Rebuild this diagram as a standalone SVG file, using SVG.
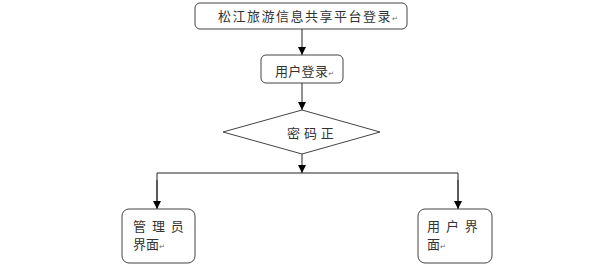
<svg xmlns="http://www.w3.org/2000/svg" width="600" height="277" viewBox="0 0 600 277">
<style>
.box{fill:#fff;stroke:#444;stroke-width:1}
.t{font-family:"Noto Sans CJK SC","Noto Sans",sans-serif;font-size:13px;fill:#333}
.rt{font-family:"DejaVu Sans",sans-serif;font-size:7px;fill:#666}
.ln{fill:none;stroke:#222;stroke-width:1}
</style>
<defs>
<marker id="ah" viewBox="0 0 8 8" refX="8" refY="4" markerWidth="8" markerHeight="8" markerUnits="userSpaceOnUse" orient="auto">
<path d="M0,0 L8,4 L0,8 z" fill="#000"/>
</marker>
</defs>
<g id="connectors">
<line class="ln" x1="302" y1="29" x2="302" y2="55" marker-end="url(#ah)"/>
<line class="ln" x1="302" y1="83" x2="302" y2="110" marker-end="url(#ah)"/>
<line class="ln" x1="302" y1="154" x2="302" y2="173" marker-end="url(#ah)"/>
<polyline class="ln" points="157,208 157,173 458,173 458,208"/>
<line class="ln" x1="157" y1="180" x2="157" y2="209" marker-end="url(#ah)"/>
<line class="ln" x1="458" y1="180" x2="458" y2="209" marker-end="url(#ah)"/>
</g>
<g id="n1">
<rect class="box" x="195" y="3" width="212" height="26" rx="5"/>
<text class="t" x="218" y="21" letter-spacing="1.5">松江旅游信息共享平台登录<tspan class="rt" letter-spacing="0">↵</tspan></text>
</g>
<g id="n2">
<rect class="box" x="261" y="55" width="82" height="28" rx="5"/>
<text class="t" x="275" y="76" letter-spacing="0.3">用户登录<tspan class="rt" letter-spacing="0">↵</tspan></text>
</g>
<g id="n3">
<polygon class="box" points="302,110 380,132 302,154 223,132"/>
<text class="t" x="287" y="138" font-size="12.5" letter-spacing="0.5">密 码 正</text>
</g>
<g id="n4">
<rect class="box" x="122" y="209" width="73" height="54" rx="7"/>
<text class="t" x="133" y="231" letter-spacing="1.5">管 理 员</text>
<text class="t" x="133" y="249">界面<tspan class="rt">↵</tspan></text>
</g>
<g id="n5">
<rect class="box" x="418" y="209" width="74" height="54" rx="7"/>
<text class="t" x="427" y="231" letter-spacing="1.5">用 户 界</text>
<text class="t" x="427" y="249">面<tspan class="rt">↵</tspan></text>
</g>
</svg>
